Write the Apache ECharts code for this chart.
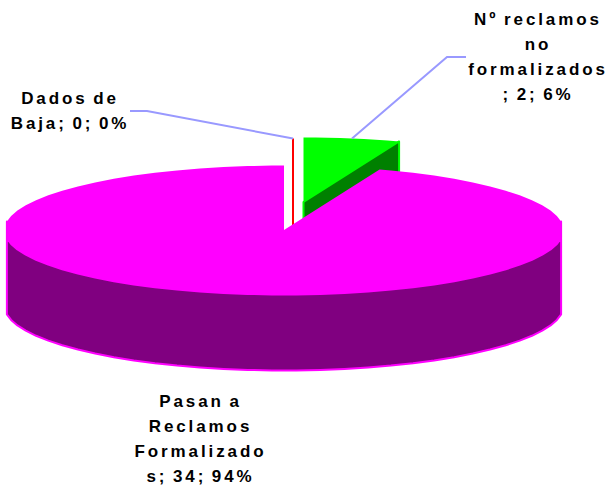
<!DOCTYPE html>
<html>
<head>
<meta charset="utf-8">
<style>
html,body{margin:0;padding:0;background:#fff}
#c{width:609px;height:485px}
#c text{letter-spacing:2.9px;word-spacing:-2px}
</style>
<script src="https://cdn.jsdelivr.net/npm/echarts@6/dist/echarts.min.js"></script>
</head>
<body>
<div id="c"></div>
<script>
// Drawing order is back to front.
const categories = ['Nº reclamos no formalizados', 'Dados de Baja', 'Pasan a Reclamos Formalizados'];
const values = [2, 0, 34];
const labelLines = [
  ['Nº reclamos', 'no', 'formalizados', '; 2; 6%'],
  ['Dados de', 'Baja; 0; 0%'],
  ['Pasan a', 'Reclamos', 'Formalizado', 's; 34; 94%']
];
const topColors = ['#00ff00', '#ff0000', '#ff00ff'];
const wallColors = ['#008000', '#ff0000', '#800080'];

// Angles run clockwise from 12 o'clock, in pie order.
const startAngles = {0: 0, 1: 360, 2: 20};
const layout = {
  rx: 279.5, ry: 64.5, depth: 76,
  centers: [[303.5, 202], [293, 203], [284, 230]],
  labelPos: [[538, 19], [70, 98], [200.5, 401]],
  leaders: [[[447, 57], [466, 57]], [[147, 111], [130, 111]], null]
};
const total = values.reduce((a, b) => a + b, 0);
const pt = (c, deg, dy) => {
  const r = deg * Math.PI / 180;
  return [c[0] + layout.rx * Math.sin(r), c[1] - layout.ry * Math.cos(r) + (dy || 0)];
};
// Rim vertices every 5 degrees; the vertices next to the side tips are left out,
// which leaves the short vertical edges the original has at its left and right.
const arc = (c, a, b, dy) => {
  const out = [pt(c, a, dy)];
  for (let t = Math.floor(a / 5) * 5 + 2.5; t < b; t += 5) {
    const nearTip = Math.abs(t - 90) < 7 || Math.abs(t - 270) < 7;
    if (t > a && !nearTip) out.push(pt(c, t, dy));
  }
  out.push(pt(c, b, dy));
  return out;
};

function renderItem(params, api) {
  const i = params.dataIndex, v = api.value(0);
  const sweep = v / total * 360;
  const a = startAngles[i], b = a + sweep;
  const c = layout.centers[i], d = layout.depth;
  const children = [];
  const wallStyle = {fill: wallColors[i], stroke: topColors[i], lineWidth: 2, lineJoin: 'round'};
  if (v === 0) {
    const p = pt(c, a);
    children.push({type: 'polyline', shape: {points: [p, [p[0], c[1] + d]]},
      style: {stroke: topColors[i], lineWidth: 2, fill: null}});
  } else {
    // outer rim wall (front half only)
    const f0 = Math.max(a, 82.5), f1 = Math.min(b, 277.5);
    if (f1 > f0) {
      children.push({type: 'polygon', shape: {points: arc(c, f0, f1, 0).concat(arc(c, f0, f1, d).reverse())}, style: wallStyle});
    }
    // cut wall at the clockwise end, when it faces the viewer
    if (Math.sin(b * Math.PI / 180) > 0.01) {
      const p = pt(c, b);
      children.push({type: 'polygon', shape: {points: [p, c, [c[0], c[1] + d], [p[0], p[1] + d]]}, style: wallStyle});
    }
    children.push({type: 'polygon', shape: {points: [c].concat(arc(c, a, b))}, style: {fill: topColors[i]}});
  }
  // leader line from the middle of the rim
  const lead = layout.leaders[i];
  if (lead) {
    children.push({type: 'polyline', z2: 5, shape: {points: [pt(c, a + sweep / 2)].concat(lead)},
      style: {stroke: '#9999ff', lineWidth: 2, fill: null}});
  }
  return {type: 'group', children};
}

function renderLabels(params) {
  const i = params.dataIndex, [x, y] = layout.labelPos[i];
  return {type: 'group', children: labelLines[i].map((t, k) => ({
    type: 'text', x: x, y: y + k * 25,
    style: {text: t, fill: '#000', font: 'bold 17px "Liberation Sans", Arial, sans-serif',
      textAlign: 'center', textVerticalAlign: 'middle'}
  }))};
}

const chart = echarts.init(document.getElementById('c'), null, {renderer: 'svg', width: 609, height: 485});
chart.setOption({
  backgroundColor: '#ffffff',
  animation: false,
  series: [
    {type: 'custom', coordinateSystem: 'none', renderItem: renderItem, silent: true, z: 2,
     data: values.map((v, i) => ({name: categories[i], value: [v]}))},
    {type: 'custom', coordinateSystem: 'none', renderItem: renderLabels, silent: true, z: 3,
     data: values.map((v, i) => ({name: categories[i], value: [v]}))}
  ]
});
</script>
</body>
</html>
